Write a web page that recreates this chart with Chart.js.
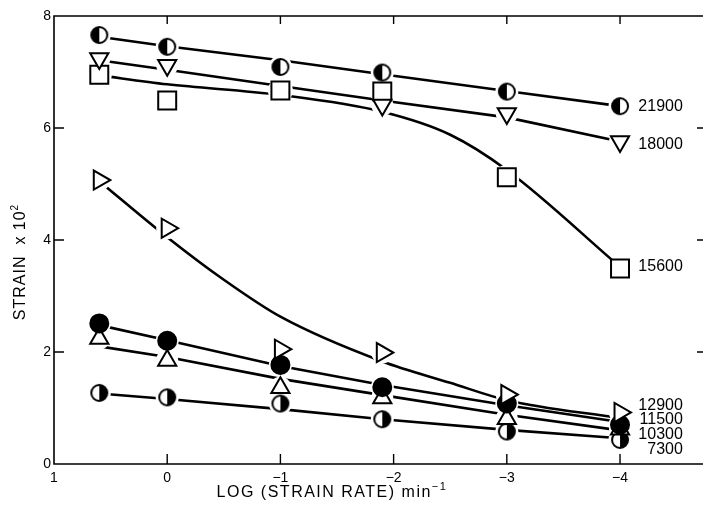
<!DOCTYPE html>
<html>
<head>
<meta charset="utf-8">
<script src="https://cdn.jsdelivr.net/npm/chart.js@4.4.1/dist/chart.umd.min.js"></script>
<style>
  html, body { margin: 0; padding: 0; background: #fff; overflow: hidden; }
  #wrap { width: 703px; height: 508px; }
</style>
</head>
<body>
<div id="wrap"><canvas id="chart"></canvas></div>
<script>
// log(strain rate) columns where the strains were measured
const logRates = [0.6, 0, -1, -1.9, -3, -4]

// strain x 10^2, one list per stress level
const stressLabels = ['21900', '18000', '15600', '12900', '11500', '10300', '7300']
const strain21900 = [7.66, 7.45, 7.09, 6.99, 6.65, 6.39]
const strain18000 = [7.24, 7.12, null, 6.41, 6.26, 5.76]
const strain15600 = [6.95, 6.49, 6.67, 6.65, 5.12, 3.49]
const strain12900 = [5.07, 4.21, 2.05, 1.99, 1.24, 0.92]
const strain11500 = [2.51, 2.20, 1.77, 1.37, 1.08, 0.70]
const strain10300 = [2.24, 1.85, 1.36, 1.18, 0.81, 0.62]
const strain7300 = [1.27, 1.19, 1.08, 0.80, 0.58, 0.43]

// drawn-in trend lines, read at the same columns
const fit21900 = [7.63, 7.46, 7.21, 6.96, 6.66, 6.39]
const fit18000 = [7.21, 7.04, 6.75, 6.49, 6.19, 5.76]
const fit11500 = [2.48, 2.21, 1.75, 1.41, 1.05, 0.75]
const fit10300 = [2.10, 1.91, 1.52, 1.23, 0.88, 0.60]
const fit7300 = [1.26, 1.16, 0.98, 0.80, 0.61, 0.46]

// the two curved ones need a few more stations
const curveRates15600 = [0.6, 0, -1, -1.9, -2.5, -3, -4]
const curve15600 = [6.94, 6.78, 6.59, 6.29, 5.88, 5.25, 3.52]
const curveRates12900 = [0.6, 0, -0.5, -1, -1.9, -2.5, -3, -4]
const curve12900 = [5.05, 4.05, 3.29, 2.63, 1.83, 1.45, 1.14, 0.82]

// where each stress label sits (strain units) at the right edge
const stressLabelAt = [6.38, 5.70, 3.52, 1.05, 0.80, 0.52, 0.25]

const xTicks = [1, 0, -1, -2, -3, -4]
const yTicks = [0, 2, 4, 6, 8]

const FONT = "'Liberation Sans', Arial, sans-serif"
Chart.defaults.font.family = FONT
Chart.defaults.color = '#000'

const pts = (xs, ys) => xs.map((x, i) => ({ x, y: ys[i] })).filter(p => p.y !== null)

function halfCircle(darkSide) {
  const c = document.createElement('canvas')
  c.width = 22
  c.height = 22
  const g = c.getContext('2d')
  g.beginPath()
  g.arc(11, 11, 8, 0, Math.PI * 2)
  g.fillStyle = '#fff'
  g.fill()
  g.beginPath()
  if (darkSide === 'left') g.arc(11, 11, 8, Math.PI / 2, Math.PI * 1.5)
  else g.arc(11, 11, 8, -Math.PI / 2, Math.PI / 2)
  g.closePath()
  g.fillStyle = '#000'
  g.fill()
  g.beginPath()
  g.arc(11, 11, 8, 0, Math.PI * 2)
  g.lineWidth = 2
  g.strokeStyle = '#000'
  g.stroke()
  return c
}

const markers = [
  { data: strain21900, style: halfCircle('left'), radius: 9, rotation: 0, fill: '#fff', halo: 11.5 },
  { data: strain18000, style: 'triangle', radius: 10.5, rotation: 180, fill: '#fff', halo: 11 },
  { data: strain15600, style: 'rect', radius: 12.7, rotation: 0, fill: '#fff', halo: 12.5 },
  { data: strain12900, style: 'triangle', radius: 11, rotation: 90, fill: '#fff', halo: 11 },
  { data: strain11500, style: 'circle', radius: 9, rotation: 0, fill: '#000', halo: 11.5 },
  { data: strain10300, style: 'triangle', radius: 10.5, rotation: 0, fill: '#fff', halo: 11 },
  { data: strain7300, style: halfCircle('right'), radius: 9, rotation: 0, fill: '#fff', halo: 11.5 },
]

const trends = [
  { xs: logRates, ys: fit21900, curve: false },
  { xs: logRates, ys: fit18000, curve: false },
  { xs: curveRates15600, ys: curve15600, curve: true },
  { xs: curveRates12900, ys: curve12900, curve: true },
  { xs: logRates, ys: fit11500, curve: false },
  { xs: logRates, ys: fit10300, curve: false },
  { xs: logRates, ys: fit7300, curve: false },
]

const datasets = []
markers.forEach((m, i) => {
  datasets.push({
    label: stressLabels[i],
    data: pts(logRates, m.data),
    showLine: false,
    pointStyle: m.style,
    pointRadius: m.radius,
    pointRotation: m.rotation,
    pointBackgroundColor: m.fill,
    pointBorderColor: '#000',
    pointBorderWidth: 2,
    order: 0,
  })
  // white disc under each marker so the trend lines stop short of it
  datasets.push({
    label: stressLabels[i] + ' gap',
    data: pts(logRates, m.data),
    showLine: false,
    pointStyle: 'circle',
    pointRadius: m.halo,
    pointBackgroundColor: '#fff',
    pointBorderWidth: 0,
    order: 1,
  })
})
trends.forEach((t, i) => {
  datasets.push({
    label: stressLabels[i] + ' trend',
    data: pts(t.xs, t.ys),
    showLine: true,
    pointRadius: 0,
    borderColor: '#000',
    borderWidth: 2.6,
    cubicInterpolationMode: t.curve ? 'monotone' : 'default',
    order: 2,
  })
})

const minusSign = v => (v < 0 ? '\u2212' + Math.abs(v) : String(v))

// frame, inward ticks, axis titles and stress labels
const decorations = {
  id: 'decorations',
  afterDraw(chart) {
    const { ctx, chartArea: a, scales: { x, y } } = chart
    ctx.save()
    ctx.strokeStyle = '#000'
    ctx.lineWidth = 1.6
    ctx.beginPath()
    ctx.moveTo(a.right, a.top)
    ctx.lineTo(a.left, a.top)
    ctx.lineTo(a.left, a.bottom)
    ctx.lineTo(a.right, a.bottom)
    ctx.stroke()

    ctx.lineWidth = 1.4
    xTicks.filter(v => v !== 1).forEach(v => {
      const px = x.getPixelForValue(v)
      ctx.beginPath()
      ctx.moveTo(px, a.top)
      ctx.lineTo(px, a.top + 8)
      ctx.moveTo(px, a.bottom)
      ctx.lineTo(px, a.bottom - 10)
      ctx.stroke()
    })
    yTicks.filter(v => v !== 0 && v !== 8).forEach(v => {
      const py = y.getPixelForValue(v)
      ctx.beginPath()
      ctx.moveTo(a.left, py)
      ctx.lineTo(a.left + 10, py)
      ctx.moveTo(a.right, py)
      ctx.lineTo(a.right - 6, py)
      ctx.stroke()
    })

    ctx.fillStyle = '#000'
    ctx.textBaseline = 'middle'

    // stress labels
    ctx.font = '16px ' + FONT
    ctx.textAlign = 'right'
    const labelX = x.getPixelForValue(-4.555)
    stressLabels.forEach((s, i) => {
      ctx.fillText(s, labelX, y.getPixelForValue(stressLabelAt[i]))
    })

    // x axis title with superscript
    ctx.textAlign = 'left'
    ctx.font = '16px ' + FONT
    ctx.letterSpacing = '1.5px'
    const xMain = 'LOG (STRAIN RATE) min'
    const xw = ctx.measureText(xMain).width
    ctx.font = '11px ' + FONT
    const xsup = '\u22121'
    const xsw = ctx.measureText(xsup).width
    let tx = 332 - (xw + xsw) / 2
    ctx.font = '16px ' + FONT
    ctx.fillText(xMain, tx, 493)
    ctx.font = '11px ' + FONT
    ctx.fillText(xsup, tx + xw, 487)

    // y axis title, rotated
    ctx.save()
    ctx.translate(21, 262)
    ctx.rotate(-Math.PI / 2)
    ctx.letterSpacing = '1px'
    ctx.font = '16px ' + FONT
    const yMain = 'STRAIN  x 10'
    const yw = ctx.measureText(yMain).width
    ctx.font = '10px ' + FONT
    const ysw = ctx.measureText('2').width
    const ty = -(yw + ysw) / 2
    ctx.font = '16px ' + FONT
    ctx.fillText(yMain, ty, 0)
    ctx.font = '10px ' + FONT
    ctx.fillText('2', ty + yw, -6)
    ctx.restore()

    ctx.restore()
  },
}

new Chart(document.getElementById('chart'), {
  type: 'scatter',
  data: { datasets },
  options: {
    responsive: true,
    maintainAspectRatio: false,
    animation: false,
    layout: { autoPadding: false, padding: { top: 16, right: 0, left: 0, bottom: 0 } },
    plugins: {
      legend: { display: false },
      tooltip: { enabled: false },
    },
    scales: {
      x: {
        type: 'linear',
        reverse: true,
        min: -4.733,
        max: 1,
        grid: { display: false, drawTicks: false },
        border: { display: false },
        afterFit: s => {
          s.height = 44
          s.paddingLeft = 0
          s.paddingRight = 0
        },
        afterBuildTicks: s => { s.ticks = xTicks.map(v => ({ value: v })) },
        ticks: {
          padding: 6,
          font: { size: 14 },
          color: '#000',
          callback: minusSign,
        },
      },
      y: {
        type: 'linear',
        min: 0,
        max: 8,
        grid: { display: false, drawTicks: false },
        border: { display: false },
        afterFit: s => {
          s.width = 54
          s.paddingTop = 0
          s.paddingBottom = 0
        },
        afterBuildTicks: s => { s.ticks = yTicks.map(v => ({ value: v })) },
        ticks: {
          padding: 3,
          font: { size: 14 },
          color: '#000',
        },
      },
    },
  },
  plugins: [decorations],
})
</script>
</body>
</html>
